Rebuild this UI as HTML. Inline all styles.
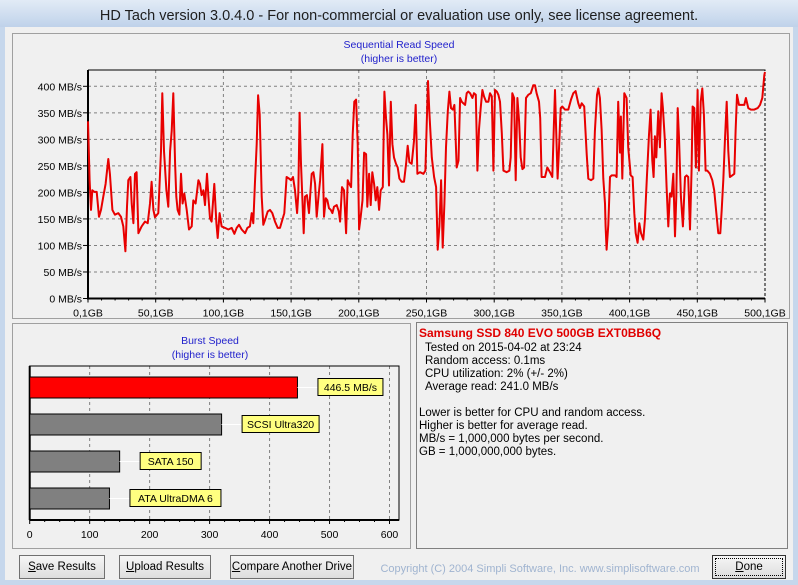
<!DOCTYPE html>
<html><head><meta charset="utf-8"><style>
html,body{margin:0;width:798px;height:585px;overflow:hidden;}
body{background:#f0f0f0;font-family:"Liberation Sans",sans-serif;position:relative;}
.btn{position:absolute;height:24px;border:1px solid #707070;background:linear-gradient(#f6f6f6,#dddddd);font-size:11.5px;line-height:22px;text-align:center;color:#000;box-sizing:border-box;white-space:nowrap;overflow:hidden;}
</style></head><body>
<svg id="win" width="798" height="585" style="position:absolute;left:0;top:0;display:block">
<defs><linearGradient id="tb" x1="0" y1="0" x2="0" y2="1"><stop offset="0" stop-color="#e2ebf6"/><stop offset="1" stop-color="#bfd2ea"/></linearGradient></defs>
<rect x="0" y="0" width="798" height="585" fill="#c6d7ec"/>
<rect x="0" y="0" width="798" height="27" fill="url(#tb)"/>
<text x="399" y="20" text-anchor="middle" font-size="14.5" fill="#1e1e1e" font-family="Liberation Sans, sans-serif">HD Tach version 3.0.4.0  - For non-commercial or evaluation use only, see license agreement.</text>
<rect x="5" y="27" width="788" height="553" fill="#f0f0f0"/>
<rect x="12.5" y="33.5" width="777" height="285" fill="#f0f0f0" stroke="#a0a0a0"/>
<rect x="12.5" y="323.5" width="398" height="225" fill="#f0f0f0" stroke="#a0a0a0"/>
<rect x="416.5" y="322.5" width="371" height="226" fill="#f0f0f0" stroke="#808080"/>
<g id="line"></g>
<g id="burst"></g>
<text x="399" y="48" text-anchor="middle" font-size="10.5" fill="#2222cc">Sequential Read Speed</text>
<text x="399" y="62" text-anchor="middle" font-size="10.5" fill="#2222cc">(higher is better)</text>
<text x="210" y="344" text-anchor="middle" font-size="10.5" fill="#2222cc">Burst Speed</text>
<text x="210" y="358" text-anchor="middle" font-size="10.5" fill="#2222cc">(higher is better)</text>
<g font-size="11.5" fill="#000">
<text x="419" y="337" font-weight="bold" font-size="12" fill="#e00000">Samsung SSD 840 EVO 500GB EXT0BB6Q</text>
<text x="425" y="351">Tested on 2015-04-02 at 23:24</text>
<text x="425" y="364">Random access: 0.1ms</text>
<text x="425" y="377">CPU utilization: 2% (+/- 2%)</text>
<text x="425" y="390">Average read: 241.0 MB/s</text>
<text x="419" y="416">Lower is better for CPU and random access.</text>
<text x="419" y="429">Higher is better for average read.</text>
<text x="419" y="442">MB/s = 1,000,000 bytes per second.</text>
<text x="419" y="455">GB = 1,000,000,000 bytes.</text>
</g>
<text x="540" y="572" text-anchor="middle" font-size="11" fill="#a0b4d0">Copyright (C) 2004 Simpli Software, Inc. www.simplisoftware.com</text>
</svg>
<div class="btn" style="left:19px;top:555px;width:86px"><u>S</u>ave Results</div>
<div class="btn" style="left:119px;top:555px;width:92px"><u>U</u>pload Results</div>
<div class="btn" style="left:230px;top:555px;width:124px"><u>C</u>ompare Another Drive</div>
<div class="btn" style="left:712px;top:555px;width:74px;border:1px solid #333;outline:1px dotted #000;outline-offset:-4px"><u>D</u>one</div>
<script>
const gbPos=[0,1.2,2.2,3.2,4.7,6.4,8.1,9.6,11.3,13.0,15.0,16.2,18.0,19.9,22.4,24.4,26.1,27.6,28.8,29.8,31.3,32.3,33.5,34.7,35.9,37.2,39.6,42.1,44.1,45.8,47.0,48.3,49.5,51.9,53.9,54.9,56.1,57.9,59.3,60.6,61.8,63.0,64.3,65.2,66.2,67.5,68.7,69.9,71.1,72.9,74.6,76.6,77.8,79.5,81.5,82.7,83.9,85.2,86.4,87.9,88.9,90.1,91.3,93.3,94.8,95.8,97.2,98.7,101.2,103.6,106.1,108.1,109.8,111.5,113.5,116.0,117.7,119.6,120.9,122.1,123.3,124.6,125.6,126.8,128.3,129.5,130.7,132.7,134.4,136.1,138.1,140.1,141.8,143.5,145.0,146.7,148.5,149.9,151.4,152.9,154.4,155.3,156.3,157.3,158.3,159.3,160.3,161.7,163.2,
164.0,165.2,166.5,167.7,168.9,170.2,171.4,173.1,174.3,175.6,176.8,178.0,179.3,180.5,181.7,183.7,185.2,186.2,187.6,189.1,190.6,191.8,193.0,194.3,195.5,196.7,198.0,199.2,200.2,201.4,202.7,203.9,205.4,206.3,207.6,208.8,210.0,211.3,212.5,213.7,215.0,216.2,217.7,218.9,220.1,221.1,222.3,223.6,224.8,226.0,227.5,228.7,230.0,231.7,233.4,234.9,236.1,237.4,239.1,240.8,242.0,243.3,245.2,247.7,249.2,250.2,251.1,252.1,253.9,255.6,257.1,258.3,259.5,260.8,262.0,263.2,264.4,265.7,266.9,268.1,269.4,270.6,272.3,273.6,274.8,276.0,277.2,278.5,279.7,280.9,282.2,283.9,285.1,286.4,287.6,288.8,290.0,291.3,292.5,294.0,295.7,296.9,298.2,299.4,300.6,301.9,303.1,304.3,305.6,306.8,309.2,311.2,312.2,313.4,314.7,315.9,317.1,318.4,319.6,320.8,322.1,323.5,325.2,327.0,328.9,
330.1,331.3,333.1,334.0,335.0,336.3,337.5,339.2,341.2,342.9,344.1,344.9,345.9,346.8,347.8,349.1,350.3,352.3,354.7,356.7,358.4,360.1,362.1,363.3,364.6,366.5,368.3,369.5,371.5,373.2,374.4,375.9,376.9,378.1,379.3,380.6,381.8,382.3,383.0,384.3,385.5,386.7,389.2,390.4,391.6,392.9,393.6,394.6,396.1,397.8,399.0,400.8,402.2,403.5,404.5,405.9,407.2,408.4,410.1,411.3,412.8,414.3,415.5,416.8,417.7,418.7,419.7,421.2,422.4,423.6,424.6,426.1,427.3,428.6,429.8,431.0,432.3,433.5,434.5,435.5,436.5,437.9,439.4,440.9,442.1,443.3,444.6,445.8,446.5,447.8,449.0,450.2,451.2,452.5,453.7,454.9,456.1,457.4,459.3,461.1,462.5,464.3,465.5,467.0,468.0,469.2,470.4,471.7,472.9,474.1,475.8,477.3,478.3,479.3,480.8,482.7,484.7,485.9,487.7,489.6,492.1,494.6,496.3,498.0,499.5,500];
const readMBs=[334,223,167,204,201,201,154,167,192,216,263,235,167,158,161,154,136,89,173,223,229,179,142,235,238,123,136,145,142,179,220,167,153,161,278,387,278,204,173,278,316,387,254,192,167,158,235,179,198,167,130,136,185,179,223,216,195,204,176,235,192,151,145,216,142,114,161,136,133,130,133,122,133,139,130,123,133,136,161,142,216,291,383,347,192,139,148,164,167,161,145,133,133,148,161,229,226,223,229,204,161,198,350,254,192,123,192,195,161,
192,235,238,216,154,192,223,291,154,189,185,170,167,161,173,176,164,145,210,204,123,223,216,210,309,371,375,291,130,154,185,275,272,173,235,176,238,216,185,210,167,204,210,390,340,309,213,371,291,266,254,247,226,220,220,254,288,257,254,297,365,235,238,235,241,334,410,353,266,229,210,92,136,223,96,179,285,353,390,359,356,365,247,260,378,371,368,365,387,390,387,378,387,384,241,319,359,393,381,371,371,387,381,241,393,390,384,371,312,241,238,241,266,387,378,223,378,334,266,244,247,378,384,387,402,
402,387,371,340,229,229,229,247,238,229,328,393,309,226,278,359,362,356,356,375,387,391,368,359,368,362,272,226,223,226,316,384,396,378,319,226,179,136,92,139,229,232,232,229,371,275,343,226,387,378,285,232,229,161,123,105,142,123,111,148,229,309,356,260,229,306,266,353,285,387,359,297,210,136,198,192,235,117,192,359,303,192,136,229,232,229,130,244,362,359,247,393,241,371,396,347,241,241,235,223,204,154,123,123,167,223,297,371,278,229,232,235,316,384,365,365,365,378,359,356,356,359,365,378,421,427];
const yTicks=[0,50,100,150,200,250,300,350,400];
const xTicks=[0,50,100,150,200,250,300,350,400,450,500];
const xTickLabels=["0,1GB","50,1GB","100,1GB","150,1GB","200,1GB","250,1GB","300,1GB","350,1GB","400,1GB","450,1GB","500,1GB"];
const burstNames=["446.5 MB/s","SCSI Ultra320","SATA 150","ATA UltraDMA 6"];
const burstValues=[446.5,320,150,133];
const burstTicks=[0,100,200,300,400,500,600];
const NS="http://www.w3.org/2000/svg";
function mk(p,t,a){const e=document.createElementNS(NS,t);for(const k in a)e.setAttribute(k,a[k]);p.appendChild(e);return e;}
const L=88,R=765,T=70,B=298.5;
const xs=g=>L+g*(R-L)/500, ys=v=>B-v*(B-86.3)/400;
const lg=document.getElementById('line');


yTicks.forEach(v=>{ if(v>0){const gl=mk(lg,'line',{x1:L,x2:R,y1:ys(v),y2:ys(v),stroke:'#808080','stroke-dasharray':'3,3'});

}
mk(lg,'line',{x1:L-5,x2:L,y1:ys(v),y2:ys(v),stroke:'#000'});
const t=mk(lg,'text',{x:L-6,y:ys(v)+4,'text-anchor':'end','font-size':'10.5',fill:'#000'});t.textContent=v+' MB/s';

});
xTicks.forEach((g,i)=>{ if(g>0&&g<500){const gl=mk(lg,'line',{x1:xs(g),x2:xs(g),y1:T,y2:B,stroke:'#808080','stroke-dasharray':'3,3'});

}
mk(lg,'line',{x1:xs(g),x2:xs(g),y1:B,y2:B+4,stroke:'#000'});
const t=mk(lg,'text',{x:xs(g),y:B+18,'text-anchor':'middle','font-size':'10.5',fill:'#000'});t.textContent=xTickLabels[i];

});
for(let g=10;g<500;g+=10){if(g%50)mk(lg,'line',{x1:xs(g),x2:xs(g),y1:B,y2:B+2,stroke:'#000'});}
mk(lg,'path',{d:`M${L},${T}H${R}V${B}`,fill:'none',stroke:'#000','stroke-dasharray':'3,2'});
mk(lg,'path',{d:`M${L},${T}H${R}`,fill:'none',stroke:'#000'});
mk(lg,'path',{d:`M${L},${T}V${B}H${R}`,fill:'none',stroke:'#000','stroke-width':'2'});
const pl=mk(lg,'polyline',{points:gbPos.map((g,i)=>xs(g).toFixed(1)+','+ys(readMBs[i]).toFixed(1)).join(' '),fill:'none',stroke:'#e80000','stroke-width':'2','stroke-linejoin':'round'});


const bL=29.7,bR=399,bT=366,bB=520,bmax=600;
const bx=v=>bL+v*(389.5-bL)/bmax;
const bg=document.getElementById('burst');


burstTicks.forEach(v=>{ if(v>0){const gl=mk(bg,'line',{x1:bx(v),x2:bx(v),y1:bT,y2:bB,stroke:'#808080','stroke-dasharray':'3,3'});

}
mk(bg,'line',{x1:bx(v),x2:bx(v),y1:bB,y2:bB+4,stroke:'#000'});
const t=mk(bg,'text',{x:bx(v),y:bB+18,'text-anchor':'middle','font-size':'10.5',fill:'#000'});t.textContent=v;

});
for(let v=25;v<600;v+=25){if(v%100)mk(bg,'line',{x1:bx(v),x2:bx(v),y1:bB,y2:bB+2,stroke:'#000'});}
mk(bg,'rect',{x:bL,y:bT,width:bR-bL,height:bB-bT,fill:'none',stroke:'#000'});
mk(bg,'line',{x1:bL,x2:bL,y1:bT,y2:bB,stroke:'#000','stroke-width':'2'});
mk(bg,'line',{x1:bL,x2:bR,y1:bB,y2:bB,stroke:'#000','stroke-width':'2'});
const lblW=[65,77,61,91];
burstValues.forEach((v,i)=>{const y=377+i*37;
const r=mk(bg,'rect',{x:bL,y:y,width:bx(v)-bL,height:21,fill:i==0?'#ff0000':'#808080',stroke:'#000'});


const lx=bx(v)+20;
mk(bg,'line',{x1:bx(v),x2:lx,y1:y+10.5,y2:y+10.5,stroke:'#fff'});
const box=mk(bg,'rect',{x:lx+0.5,y:y+1.5,width:lblW[i],height:17,fill:'#ffff80',stroke:'#000'});


const t=mk(bg,'text',{x:lx+0.5+lblW[i]/2,y:y+14,'text-anchor':'middle','font-size':'10.5',fill:'#000'});t.textContent=burstNames[i];

});
</script>
</body></html>
